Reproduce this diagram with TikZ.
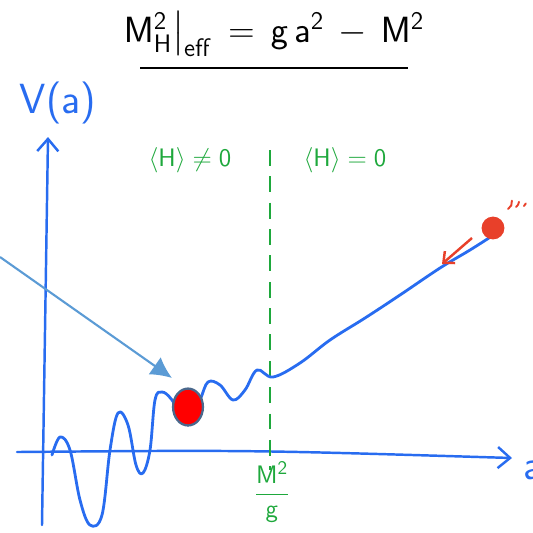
\documentclass[tikz,border=0pt]{standalone}
\usepackage{tikz}
\usetikzlibrary{positioning}
\usetikzlibrary{arrows.meta}
\usetikzlibrary{shapes.geometric}
\usepackage{amsmath}
\definecolor{penblue}{RGB}{40,108,240}
\definecolor{pengreen}{RGB}{30,168,60}
\definecolor{ptrblue}{RGB}{91,155,213}
\definecolor{ballred}{RGB}{232,64,42}
\definecolor{rimgray}{RGB}{74,104,140}

\begin{document}
\begin{tikzpicture}[x=0.02cm, y=-0.02cm,
    pen/.style={line width=1.6pt, penblue, line cap=round, line join=round},
    hand/.style={font=\sffamily},
    phase/.style={pengreen, font=\fontsize{15}{18}\selectfont\sffamily}]
    \useasboundingbox (0,0) rectangle (533,532);

    % title
    \node[hand] (title) at (274,34) {\fontsize{21}{24}\selectfont $\mathsf{M_H^2\big|_{eff} \,=\, g\,a^2 \,-\, M^2}$};
    \draw[line width=1.3pt] (140,68) -- (408,68);

    % axes
    \coordinate (yfoot) at (42,525);
    \coordinate (ytop) at (48,137);
    \coordinate (xfoot) at (17,452);
    \coordinate (xtip) at (512,458);
    \draw[pen, line width=1.4pt, -{Straight Barb[length=7pt, width=12pt]}] (yfoot) -- (ytop);
    \draw[pen, line width=1.4pt, -{Straight Barb[length=7pt, width=12pt]}] (xfoot) .. controls (250,450) .. (xtip);
    \node[penblue, font=\fontsize{24}{28}\selectfont\sffamily] (vlabel) at (58,103) {V(a)};
    \node[penblue, anchor=west, font=\fontsize{24}{28}\selectfont\sffamily] (alabel) at (517,470) {a};

    % phases
    \draw[pengreen, line width=1.3pt, dash pattern=on 9pt off 6pt] (270,150) -- (270,470);
    \node[phase] (broken) at (190,160) {$\langle\mathsf{H}\rangle \neq \mathsf{0}$};
    \node[phase] (sym) at (345,160) {$\langle\mathsf{H}\rangle = \mathsf{0}$};
    \node[pengreen, font=\fontsize{15}{18}\selectfont] (crit) at (272,492) {$\dfrac{\mathsf{M^2}}{\mathsf{g}}$};

    % potential
    \draw[pen] plot[smooth, tension=0.6] coordinates {
        (52,455) (60,437) (70,450) (80,500) (90,525) (102,515) (110,450) (118,413)
        (128,425) (136,465) (143,473) (150,450) (155,400) (162,392) (172,400)
        (188,425) (200,400) (208,382) (220,385) (233,400) (245,390) (257,370)
        (273,377) (300,363) (330,340) (365,318) (400,295) (440,268) (470,250) (492,236)};

    % trapped ball and pointer
    \node[ellipse, draw=rimgray, line width=1.3pt, fill=red, minimum width=17pt,
          minimum height=21pt, inner sep=0pt] (ball) at (188,407) {};
    \coordinate (ptrfoot) at (0,257);
    \coordinate (ptrtip) at (172,378);
    \draw[ptrblue, line width=1.2pt, -{Latex[length=12pt, width=12pt]}] (ptrfoot) -- (ptrtip);

    % rolling ball
    \node[circle, fill=ballred, minimum size=13pt, inner sep=0pt] (roller) at (493,228) {};
    \coordinate (rollfoot) at (472,238);
    \coordinate (rolltip) at (442,264);
    \draw[ballred, line width=1.4pt, -{Straight Barb[length=5pt, width=9pt]}] (rollfoot) -- (rolltip);
    \draw[ballred, line width=1.1pt, line cap=round] (508,209) arc (60:-10:8);
    \draw[ballred, line width=1.1pt, line cap=round] (516,207) arc (55:5:7);
    \draw[ballred, line width=1.1pt, line cap=round] (524,206) arc (50:20:6);
\end{tikzpicture}
\end{document}
